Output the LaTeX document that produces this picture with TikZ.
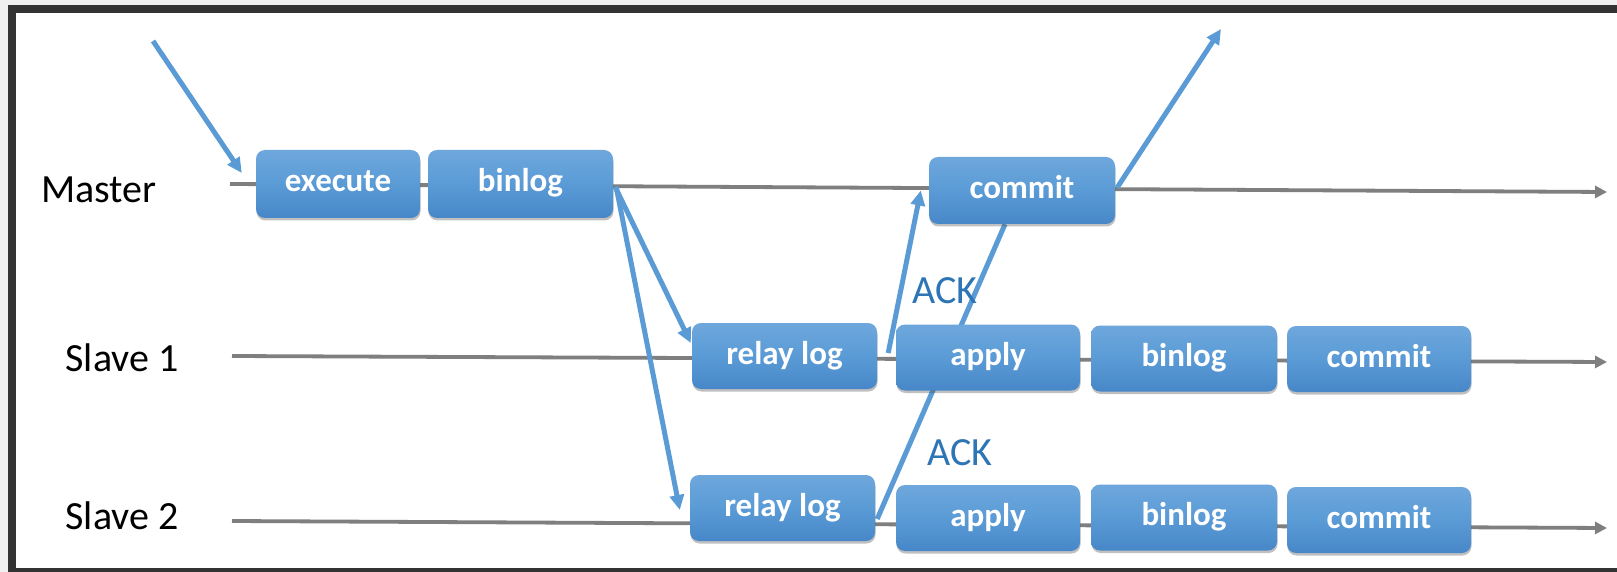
\documentclass[tikz,border=0pt]{standalone}
\usepackage{fontspec}
\setmainfont{Carlito}
\usetikzlibrary{arrows.meta,shadows,calc}
\definecolor{arrowblue}{HTML}{5B9BD5}
\definecolor{ackblue}{HTML}{2E75B6}
\definecolor{timegrey}{HTML}{7F7F7F}
\definecolor{boxtop}{HTML}{6EA7DC}
\definecolor{boxmid}{HTML}{5A9BD6}
\definecolor{boxbot}{HTML}{4787C8}
\definecolor{framedark}{HTML}{333333}
\definecolor{pagegrey}{HTML}{F0F0F0}
\pgfdeclarelayer{frame}
\pgfdeclarelayer{links}
\pgfsetlayers{frame,links,main}

\begin{document}
\begin{tikzpicture}[x=1pt,y=-1pt,
  stepbox/.style={rectangle, rounded corners=9pt, minimum height=66pt,
    inner sep=0pt, text height=22pt, text depth=6pt,
    top color=boxtop, bottom color=boxbot, middle color=boxmid,
    text=white, font=\fontsize{33}{36}\selectfont\bfseries,
    drop shadow={shadow xshift=0.5pt, shadow yshift=-2.5pt, opacity=0.35, fill=black!70}},
  lane/.style={font=\fontsize{40}{44}\selectfont, text=black, inner sep=0pt,
    text height=26pt, text depth=0pt},
  acklabel/.style={font=\fontsize{40}{44}\selectfont, text=ackblue, inner sep=0pt,
    text height=26pt, text depth=0pt},
  timeline/.style={draw=timegrey, line width=3.8pt, -{Triangle[length=12pt,width=12pt]}},
  msg/.style={draw=arrowblue, line width=5pt, -{Triangle[length=15pt,width=14pt]}},
  msgnotip/.style={draw=arrowblue, line width=5pt}]

\useasboundingbox (0,0) rectangle (1617,572);

% window frame
\begin{pgfonlayer}{frame}
  \fill[pagegrey] (0,0) rectangle (1617,572);
  \fill[framedark] (8,5) rectangle (1617,572);
  \fill[white] (16,13) rectangle (1617,568);
\end{pgfonlayer}

% lane labels
\node[lane] (lmaster) at (99,190) {Master};
\node[lane] (lslave1) at (122,358) {Slave 1};
\node[lane] (lslave2) at (122,516) {Slave 2};

% master steps
\node[stepbox, minimum width=164pt, minimum height=68pt] (exe)  at (338,184)   {execute};
\node[stepbox, minimum width=185pt, minimum height=68pt] (mbin) at (520.5,184) {binlog};
\node[stepbox, minimum width=186pt, minimum height=67pt] (mcom) at (1022,190.5) {commit};

% slave 1 steps
\node[stepbox, minimum width=185pt] (r1) at (784.5,356)  {relay log};
\node[stepbox, minimum width=184pt] (a1) at (988,357.5)  {apply};
\node[stepbox, minimum width=186pt] (b1) at (1184,358.5) {binlog};
\node[stepbox, minimum width=184pt] (c1) at (1379,359)   {commit};

% slave 2 steps
\node[stepbox, minimum width=185pt] (r2) at (782.5,508)  {relay log};
\node[stepbox, minimum width=184pt] (a2) at (988,518)    {apply};
\node[stepbox, minimum width=186pt] (b2) at (1184,517.5) {binlog};
\node[stepbox, minimum width=184pt] (c2) at (1379,520)   {commit};

% acknowledgement labels
\node[acklabel] (ack1) at (945,290) {ACK};
\node[acklabel] (ack2) at (960,452) {ACK};

% free ends
\coordinate (clientin)  at (153,41);
\coordinate (clientout) at (1221,29);
\coordinate (mstart)  at (230,184);
\coordinate (mend)    at (1607,192);
\coordinate (s1start) at (232,356);
\coordinate (s1end)   at (1607,362);
\coordinate (s2start) at (232,521);
\coordinate (s2end)   at (1607,528);

\begin{pgfonlayer}{links}
  % time lines
  \draw[timeline] (mstart) -- (mend);
  \draw[timeline] (s1start) -- (s1end);
  \draw[timeline] (s2start) -- (s2end);

  % client request and reply
  \draw[msg] (clientin) -- ([xshift=-14pt,yshift=11pt]exe.west);
  \draw[msg] ([xshift=2pt,yshift=3pt]mcom.east) -- (clientout);

  % binlog shipped to the slaves
  \draw[msg] ([xshift=2pt,yshift=-3pt]mbin.east) -- ([xshift=-1pt,yshift=13pt]r1.west);
  \draw[msg] ([xshift=3pt,yshift=-3pt]mbin.east) -- ([xshift=-10pt,yshift=-2pt]r2.west);

  % acknowledgements back to the master
  \draw[msg] ([xshift=11pt,yshift=3pt]r1.east) -- ([xshift=-8pt]mcom.west);
  \draw[msgnotip] ([xshift=2pt,yshift=-11pt]r2.east) -- ([xshift=-17pt]mcom.south);
\end{pgfonlayer}
\end{tikzpicture}
\end{document}
